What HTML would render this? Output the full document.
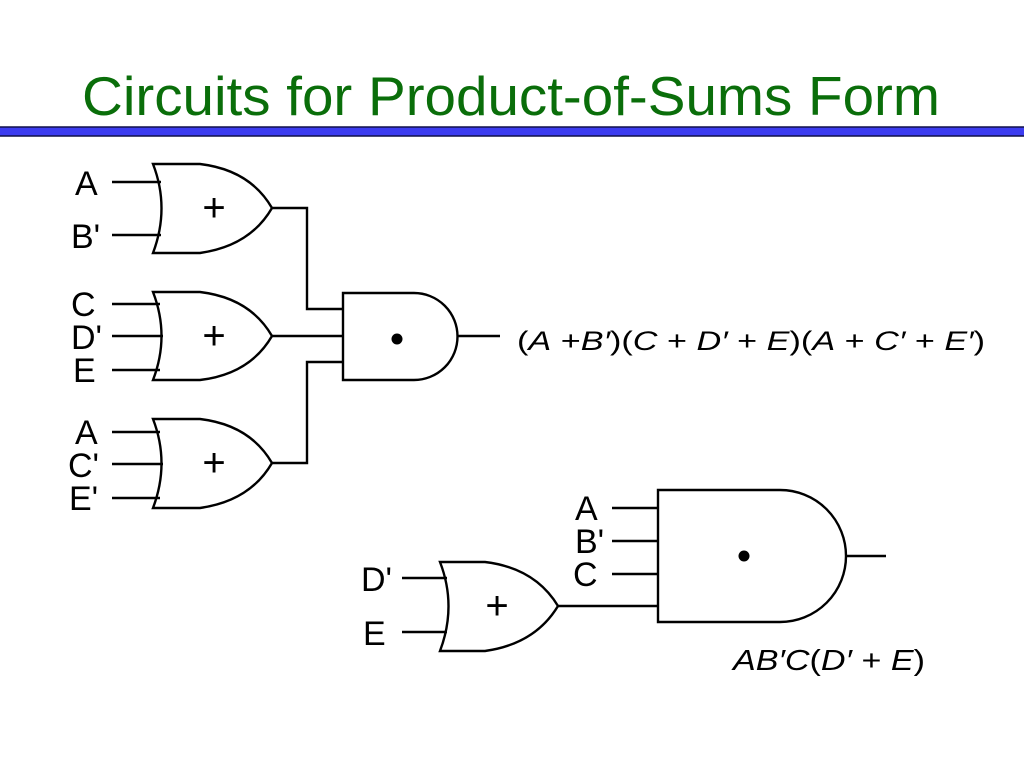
<!DOCTYPE html>
<html><head><meta charset="utf-8"><style>
html,body{margin:0;padding:0;background:#fff;width:1024px;height:768px;overflow:hidden}
svg{display:block}
</style></head><body>
<svg width="1024" height="768" viewBox="0 0 1024 768" xmlns="http://www.w3.org/2000/svg" font-family="Liberation Sans, Arial, sans-serif">
<text x="82" y="115" font-size="55" fill="#0a6e0a" textLength="858" lengthAdjust="spacingAndGlyphs">Circuits for Product-of-Sums Form</text>
<rect x="-2" y="127" width="1030" height="9" fill="#3c3cf0" stroke="#10104a" stroke-width="1.5"/>
<g fill="none" stroke="#000" stroke-width="2.4">
<path d="M153,164 L200,164 Q250,170 272,208 Q250,246 200,253 L153,253 Q170,208 153,164 Z"/>
<line x1="112" y1="182" x2="161" y2="182"/><line x1="112" y1="235" x2="161" y2="235"/>
<path d="M153,292 L200,292 Q250,298 272,336 Q250,374 200,380 L153,380 Q170,336 153,292 Z"/>
<line x1="112" y1="304" x2="160" y2="304"/><line x1="112" y1="336" x2="163" y2="336"/><line x1="112" y1="370" x2="160" y2="370"/>
<path d="M153,419 L200,419 Q250,425 272,463 Q250,501 200,508 L153,508 Q170,463 153,419 Z"/>
<line x1="112" y1="432" x2="160" y2="432"/><line x1="112" y1="464" x2="163" y2="464"/><line x1="112" y1="498" x2="160" y2="498"/>
<polyline points="272,208 307,208 307,309 343,309"/>
<line x1="272" y1="336" x2="343" y2="336"/>
<polyline points="272,463 307,463 307,362 343,362"/>
<path d="M343,293 L414,293 A43.5,43.5 0 0 1 414,380 L343,380 Z"/>
<line x1="457" y1="336" x2="500" y2="336"/>
<path d="M440,562 L485,562 Q535,568 558,606 Q535,644 485,651 L440,651 Q457,606 440,562 Z"/>
<line x1="402" y1="578" x2="447" y2="578"/><line x1="402" y1="632" x2="447" y2="632"/>
<line x1="558" y1="606" x2="658" y2="606"/>
<path d="M658,490 L780,490 A66,66 0 0 1 780,622 L658,622 Z"/>
<line x1="612" y1="508" x2="658" y2="508"/><line x1="612" y1="541" x2="658" y2="541"/><line x1="612" y1="574" x2="658" y2="574"/>
<line x1="846" y1="556" x2="886" y2="556"/>
</g>
<g font-size="40" text-anchor="middle">
<text x="214" y="221">+</text><text x="214" y="349">+</text><text x="214" y="476">+</text><text x="497" y="619">+</text>
</g>
<circle cx="397" cy="339" r="5.5"/>
<circle cx="744" cy="556" r="5.5"/>
<g font-size="34">
<text x="75" y="195">A</text><text x="71" y="248">B'</text>
<text x="71" y="316">C</text><text x="71" y="349">D'</text><text x="73" y="382">E</text>
<text x="75" y="444">A</text><text x="68" y="477">C'</text><text x="69" y="510">E'</text>
<text x="575" y="520">A</text><text x="575" y="553">B'</text><text x="573" y="586">C</text>
<text x="361" y="591">D'</text><text x="363" y="645">E</text>
</g>
<text x="517" y="350" font-size="27" textLength="468" lengthAdjust="spacingAndGlyphs">(<tspan font-style="italic">A</tspan> +<tspan font-style="italic">B′</tspan>)(<tspan font-style="italic">C</tspan> + <tspan font-style="italic">D′</tspan> + <tspan font-style="italic">E</tspan>)(<tspan font-style="italic">A</tspan> + <tspan font-style="italic">C′</tspan> + <tspan font-style="italic">E′</tspan>)</text>
<text x="733" y="670" font-size="29" textLength="192" lengthAdjust="spacingAndGlyphs"><tspan font-style="italic">AB′C</tspan>(<tspan font-style="italic">D′</tspan> + <tspan font-style="italic">E</tspan>)</text>
</svg>
</body></html>
